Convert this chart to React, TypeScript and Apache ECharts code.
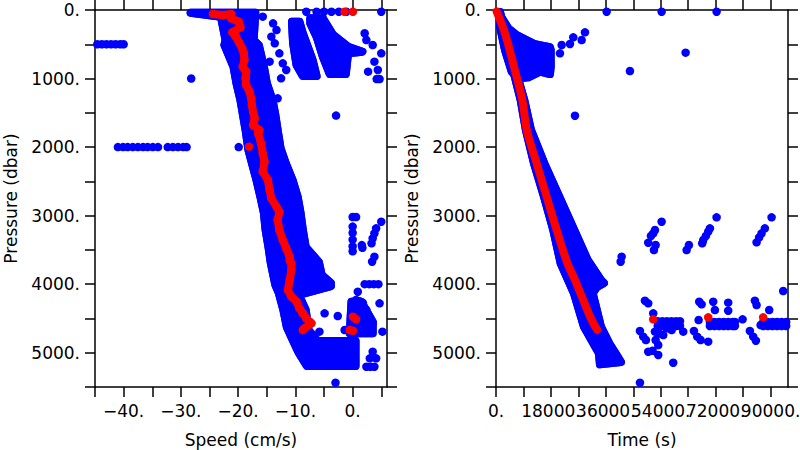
import React, { useEffect, useRef } from 'react';
import * as echarts from 'echarts';

// ---------- axis definitions ----------
const speedTicks = [-45, -40, -35, -30, -25, -20, -15, -10, -5, 0, 5];
const speedLabels = [-40, -30, -20, -10, 0];
const timeTicks = [0, 9000, 18000, 27000, 36000, 45000, 54000, 63000, 72000, 81000, 90000];
const timeLabelsA = [0, 36000, 72000];
const timeLabelsB = [18000, 54000, 90000];
const pressureTicks = [0, 500, 1000, 1500, 2000, 2500, 3000, 3500, 4000, 4500, 5000, 5500];
const pressureLabels = [0, 1000, 2000, 3000, 4000, 5000];

// ---------- left panel: speed vs pressure ----------
// dense blue regions (outline of dot centres, [speed, pressure])
const speedMainBand = [
  [-28.3, 40], [-23.0, 100], [-22.2, 438], [-22.4, 511], [-20.8, 832], [-20.3, 1065], [-19.6, 1313],
  [-18.7, 1751], [-18.2, 2043], [-17.6, 2232], [-16.8, 2480], [-16.1, 2728], [-15.5, 2962],
  [-15.2, 3210], [-14.7, 3458], [-14.3, 3691], [-13.5, 4012], [-12.9, 4129], [-12.1, 4377],
  [-11.5, 4625], [-10.7, 4771], [-9.4, 5004], [-8.0, 5194],
  [0.5, 5194], [0.5, 4829], [-6.1, 4829], [-7.7, 4669], [-8.2, 4377], [-9.4, 4158],
  [-3.8, 4027], [-3.8, 3983], [-5.4, 3866], [-5.9, 3677], [-8.2, 3458], [-8.7, 3210],
  [-9.1, 2962], [-9.6, 2728], [-10.5, 2480], [-11.7, 2232], [-12.6, 2013], [-13.1, 1751],
  [-13.5, 1532], [-14.0, 1313], [-15.0, 1065], [-15.5, 832], [-16.4, 511], [-17.3, 438], [-17.0, 40],
];
const speedStreakB = [
  [-10.6, 171], [-9.3, 171], [-8.7, 340], [-7.0, 729], [-6.3, 963], [-8.7, 963], [-9.8, 802], [-10.4, 486],
];
const speedStreakC = [
  [-7.4, 122], [-5.2, 122], [-3.4, 365], [-0.8, 535], [1.7, 608], [-0.8, 632], [-1.2, 934],
  [-4.0, 934], [-5.2, 681], [-6.3, 389], [-7.4, 195],
];
const speedClusterD = [
  [-0.2, 4256], [1.5, 4256], [3.5, 4548], [3.5, 4717], [-0.5, 4717],
];
const speedBluePoints = [
  [-44.6, 500], [-43.8, 500], [-43.0, 500], [-42.2, 500], [-41.4, 500], [-40.6, 500], [-40.0, 500],
  [-28.2, 1000], [-2.9, 1540],
  [-15.7, 97], [-13.9, 195], [-13.3, 292], [-14.2, 389], [-13.6, 486], [-12.8, 632], [-14.5, 754],
  [-12.2, 778], [-11.6, 875], [-12.5, 997], [-13.1, 1289],
  [2.1, 340], [2.4, 438], [3.5, 511], [5.0, 632], [3.8, 754], [4.4, 875], [2.7, 900], [4.7, 1007], [4.2, 1007],
  [-8.1, 25], [-6.3, 25], [-5.0, 25], [-3.7, 25], [-2.4, 25], [-1.1, 25], [5.0, 25],
  [-41.0, 2000], [-40.1, 2000], [-39.3, 2000], [-38.4, 2000], [-37.5, 2000], [-36.6, 2000], [-35.8, 2000],
  [-34.9, 2000], [-34.0, 2000], [-32.3, 2000], [-31.4, 2000], [-30.5, 2000], [-29.6, 2000], [-29.0, 2000],
  [-19.9, 2000],
  [0.0, 3020], [0.6, 3020], [0.0, 3160], [0.0, 3250], [0.0, 3350], [0.0, 3450], [0.0, 3520],
  [1.6, 3430], [1.7, 3470], [5.0, 3089], [4.1, 3185], [3.8, 3258], [3.5, 3331], [3.3, 3404],
  [3.8, 3599], [3.4, 3672], [2.1, 4000], [2.9, 4000], [3.7, 4000], [4.5, 4000],
  [0.9, 4110], [0.6, 4230], [1.2, 4250], [1.8, 4275], [4.7, 4279], [2.4, 4377], [-4.9, 4425],
  [-2.6, 4465], [2.4, 4571], [3.5, 4571], [-5.8, 4693], [-1.4, 4669], [5.2, 4693], [3.5, 4985],
  [3.0, 5082], [4.1, 5082], [2.4, 5204], [3.1, 5204], [3.8, 5204], [-3.0, 5438],
];
// continuous red trail (ordered by pressure)
const speedRedTrail = [
  [-24.4, 58], [-22.7, 73], [-21.2, 58], [-21.2, 121], [-19.9, 171], [-19.6, 252], [-21.0, 325],
  [-20.4, 390], [-19.9, 463], [-19.3, 559], [-19.0, 632], [-18.9, 730], [-19.2, 827], [-18.6, 900],
  [-18.7, 997], [-18.6, 1094], [-18.0, 1192], [-17.7, 1288], [-17.6, 1386], [-17.4, 1484],
  [-17.1, 1580], [-17.4, 1678], [-16.3, 1751], [-16.5, 1799], [-16.0, 1945], [-15.7, 2091],
  [-15.4, 2213], [-15.7, 2359], [-14.8, 2480], [-14.5, 2626], [-14.2, 2747], [-13.3, 2870],
  [-12.8, 2943], [-13.1, 3064], [-12.8, 3210], [-12.2, 3356], [-11.6, 3477], [-11.0, 3599],
  [-11.0, 3648], [-10.7, 3696], [-10.7, 3793], [-11.0, 3939], [-11.3, 4085], [-10.7, 4183],
  [-9.8, 4256], [-9.3, 4352], [-8.7, 4425], [-8.1, 4498], [-7.5, 4548], [-7.2, 4571],
  [-8.4, 4644], [-8.7, 4669],
];
const speedRedPoints = [
  [0.05, 4475], [0.6, 4513], [-0.5, 4669], [0.05, 4679],
  [-1.4, 25], [0.05, 25], [-18.1, 1994],
];

// ---------- right panel: time vs pressure ----------
const timeWedge = [
  [1310, 29], [2391, 340], [5340, 827], [8092, 1313], [9800, 1751], [12449, 2237], [15725, 2724],
  [18771, 3210], [21196, 3696], [25553, 4133], [28829, 4621], [33743, 5009], [34070, 5169],
  [40950, 5136], [39869, 5058], [37117, 4863], [34398, 4621], [31679, 4133], [33088, 4041],
  [35381, 3983], [34398, 3939], [30041, 3648], [25651, 3210], [20737, 2724], [15823, 2237],
  [11466, 1751], [9271, 1313], [3604, 438],
];
const timeFan = [
  [1310, 73], [4029, 267], [6781, 365], [9500, 427], [12776, 500], [15495, 525], [17690, 544],
  [17920, 584], [17920, 827], [17690, 934], [14414, 900], [10581, 982], [7305, 997], [5143, 900],
  [2948, 584], [1310, 244],
];
const timeBluePoints = [
  [36266, 25], [54283, 25], [72300, 25],
  [20966, 632], [21523, 511], [24242, 496], [25324, 399], [28075, 438], [29156, 326],
  [62146, 622], [43898, 890], [25880, 1542],
  [54283, 3089], [52088, 3210], [51531, 3258], [50777, 3297], [49894, 3395], [52317, 3429],
  [51760, 3502], [41179, 3599], [40852, 3672], [72300, 3025], [70106, 3185], [69549, 3234],
  [68796, 3297], [67913, 3356], [67585, 3404], [63227, 3429], [62474, 3502], [90320, 3025],
  [88125, 3185], [87044, 3258], [86258, 3317], [85406, 3390], [94118, 4100],
  [48812, 4241], [49894, 4279], [51531, 4425], [47174, 4683], [48255, 4766], [49140, 4815],
  [52088, 4693], [53500, 4720], [54808, 4742], [52317, 4815], [53169, 4888], [51334, 4971],
  [53169, 5033], [58084, 5146], [47174, 5438], [61362, 4693], [57560, 4669], [55926, 4644], [49894, 4985],
  [53000, 4540], [54500, 4540], [56000, 4540], [57500, 4540], [59000, 4540], [60300, 4540],
  [53000, 4610], [54500, 4610], [56000, 4610], [57500, 4610], [59000, 4610], [60300, 4610],
  [66601, 4256], [67389, 4294], [71744, 4377], [76100, 4270], [76100, 4387], [66405, 4523],
  [64865, 4683], [65946, 4766], [67061, 4815], [69549, 4839], [80818, 4513], [71188, 4256],
  [70100, 4550], [71600, 4550], [73100, 4550], [74600, 4550], [76100, 4550], [77600, 4550], [78300, 4550],
  [70100, 4610], [71600, 4610], [73100, 4610], [74600, 4610], [76100, 4610], [77600, 4610], [78300, 4610],
  [84848, 4241], [85406, 4304], [89533, 4377], [86716, 4596], [83210, 4683], [84291, 4766], [85176, 4825],
  [87600, 4550], [89100, 4550], [90600, 4550], [92100, 4550], [93600, 4550], [95100, 4550],
  [87600, 4610], [89100, 4610], [90600, 4610], [92100, 4610], [93600, 4610], [95100, 4610],
];
const timeRedCurve = [
  [200, 20], [2948, 340], [5897, 827], [8616, 1313], [10156, 1765], [13333, 2237], [16609, 2724],
  [19885, 3210], [23260, 3677], [25880, 3939], [28600, 4231], [31351, 4523], [33186, 4669],
];
const timeRedPoints = [[51531, 4513], [69549, 4484], [87569, 4484]];

const BLUE = '#0000ff';
const RED = '#ff0000';
const FONT = { fontFamily: 'DejaVu Sans', fontSize: 17, color: '#000' };
const NAME_FONT = { fontFamily: 'DejaVu Sans', fontSize: 17, color: '#000' };
const LINE = { color: '#000', width: 1.5 };
const DOT = 8.5;

const fmt = (v: number) => (v < 0 ? '\u2212' + Math.abs(v) : String(v)) + '.';

function labelStyle(values: number[]) {
  return {
    show: true, customValues: values, formatter: fmt, margin: 15,
    showMinLabel: true, showMaxLabel: true, hideOverlap: false, ...FONT,
  };
}

function xAxes(gridIndex: number, min: number, max: number, ticks: number[], labels: number[][], name: string) {
  const common = {
    type: 'value', gridIndex, min, max,
    axisLine: { show: true, onZero: false, lineStyle: LINE },
    axisTick: { show: true, inside: false, length: 10, customValues: ticks, lineStyle: LINE },
    splitLine: { show: false },
  };
  const axes: any[] = [
    {
      ...common, position: 'bottom', name, nameLocation: 'middle', nameGap: 44, nameTextStyle: NAME_FONT,
      axisLabel: labelStyle(labels[0]),
    },
    { ...common, position: 'top', axisLabel: { show: false } },
  ];
  if (labels[1]) {
    // second label row on the same bottom axis (labels overlap like in the original)
    axes.push({
      type: 'value', gridIndex, min, max, position: 'bottom', offset: 0,
      axisLine: { show: false, onZero: false }, axisTick: { show: false }, splitLine: { show: false },
      axisLabel: labelStyle(labels[1]),
    });
  }
  return axes;
}

function yAxes(gridIndex: number) {
  const common = {
    type: 'value', gridIndex, min: 0, max: 5500, inverse: true,
    axisLine: { show: true, onZero: false, lineStyle: LINE },
    axisTick: { show: true, inside: false, length: 10, customValues: pressureTicks, lineStyle: LINE },
    splitLine: { show: false },
  };
  return [
    {
      ...common, position: 'left', name: 'Pressure (dbar)', nameLocation: 'middle', nameGap: 76,
      nameTextStyle: NAME_FONT,
      axisLabel: labelStyle(pressureLabels),
    },
    { ...common, position: 'right', axisLabel: { show: false } },
  ];
}

function polygonSeries(polys: number[][][], xIndex: number, yIndex: number) {
  return {
    type: 'custom', xAxisIndex: xIndex, yAxisIndex: yIndex, z: 2, silent: true,
    data: polys.map((p, i) => [p[0][0], p[0][1], i]),
    encode: { x: 0, y: 1 },
    renderItem: (params: any, api: any) => {
      const poly = polys[api.value(2)];
      const points = poly.map((pt) => api.coord(pt));
      const closed = points.concat([points[0], points[1]]);
      return {
        type: 'group',
        children: [
          { type: 'polygon', shape: { points }, style: { fill: BLUE, stroke: BLUE, lineWidth: 8, lineJoin: 'round' } },
          { type: 'polyline', shape: { points: closed }, style: { fill: null, stroke: BLUE, lineWidth: 8, lineJoin: 'round', lineCap: 'round' } },
        ],
      };
    },
  };
}

function dots(data: number[][], color: string, xIndex: number, yIndex: number, z: number) {
  return {
    type: 'scatter', xAxisIndex: xIndex, yAxisIndex: yIndex, z, silent: true,
    symbol: 'circle', symbolSize: DOT, itemStyle: { color, opacity: 1 }, data,
  };
}

function trail(data: number[][], xIndex: number, yIndex: number, smooth: number) {
  return {
    type: 'line', xAxisIndex: xIndex, yAxisIndex: yIndex, z: 4, silent: true, showSymbol: false,
    smooth, data,
    lineStyle: { color: RED, width: 8, cap: 'round', join: 'round' },
  };
}

export default function App() {
  const ref = useRef<HTMLDivElement>(null);
  useEffect(() => {
    if (!ref.current) return;
    const chart = echarts.init(ref.current, undefined, { renderer: 'svg' });
    // x axes: 0 bottom-left, 1 top-left, 2 bottom-right, 3 top-right, 4 extra label row right
    chart.setOption({
      animation: false,
      backgroundColor: '#fff',
      grid: [
        { left: 95, top: 10, width: 292, height: 377, containLabel: false, outerBoundsMode: 'none' },
        { left: 496, top: 10, width: 292, height: 377, containLabel: false, outerBoundsMode: 'none' },
      ],
      xAxis: [
        ...xAxes(0, -45, 6, speedTicks, [speedLabels], 'Speed (cm/s)'),
        ...xAxes(1, 0, 95700, timeTicks, [timeLabelsA, timeLabelsB], 'Time (s)'),
      ],
      yAxis: [...yAxes(0), ...yAxes(1)],
      series: [
        polygonSeries([speedMainBand, speedStreakB, speedStreakC, speedClusterD], 0, 0),
        dots(speedBluePoints, BLUE, 0, 0, 3),
        trail(speedRedTrail, 0, 0, 0),
        dots(speedRedTrail, RED, 0, 0, 5),
        dots(speedRedPoints, RED, 0, 0, 5),
        polygonSeries([timeWedge, timeFan], 2, 2),
        dots(timeBluePoints, BLUE, 2, 2, 3),
        trail(timeRedCurve, 2, 2, 0.3),
        dots(timeRedPoints, RED, 2, 2, 5),
      ],
    });
    return () => chart.dispose();
  }, []);
  return (
    <div
      ref={ref}
      style={{ position: 'fixed', left: 0, top: 0, width: 800, height: 450, background: '#fff' }}
    />
  );
}
